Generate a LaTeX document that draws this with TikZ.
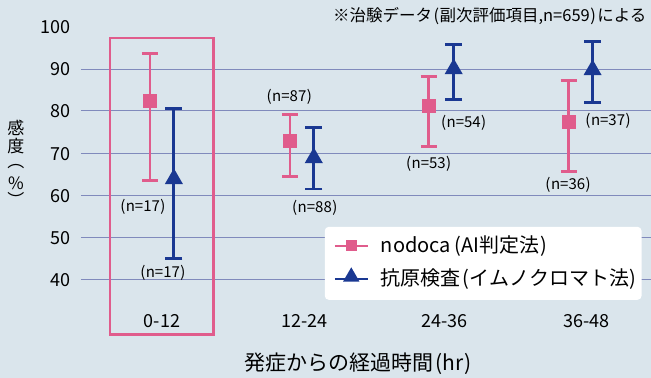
\documentclass[tikz,border=0pt]{standalone}
\usepackage{fontspec}
\setmainfont{Noto Sans CJK JP}
\usetikzlibrary{arrows.meta,shapes.geometric,positioning,calc}
\definecolor{bgblue}{RGB}{218,229,236}
\definecolor{nodopink}{RGB}{224,92,140}
\definecolor{kenblue}{RGB}{26,56,146}
\definecolor{gridblue}{RGB}{128,138,188}
\newcommand\lp{\kern1.5pt(\kern0.5pt}
\newcommand\rp{\kern0.5pt)\kern1.5pt}
\tikzset{
  gline/.style = {
    gridblue, line width=0.9pt
  },
  pinkbar/.style = {
    nodopink, line width=2.6pt,
    {Bar[width=16pt]}-{Bar[width=16pt]}
  },
  bluebar/.style = {
    kenblue, line width=2.8pt,
    {Bar[width=17pt]}-{Bar[width=17pt]}
  },
  sq/.style = {
    fill=nodopink, minimum size=14pt, inner sep=0pt
  },
  tri/.style = {
    regular polygon, regular polygon sides=3, fill=kenblue,
    minimum size=21pt, inner sep=0pt
  },
  nlab/.style = {
    font=\fontsize{15}{15}\selectfont, inner sep=0pt
  },
  tick/.style = {
    font=\fontsize{18}{18}\selectfont, inner sep=0pt
  },
  ychar/.style = {
    font=\fontsize{17}{17}\selectfont, inner sep=0pt
  }
}

\begin{document}
\begin{tikzpicture}[x=1pt,y=-1pt]
		\fill[bgblue] (0,0) rectangle (651,378);
		\node[anchor=east, font=\fontsize{16.5}{16}\selectfont, inner sep=0pt] (note) at (647,16) {※治験データ\lp 副次評価項目,n=659\rp による};
		
		% grid
		\coordinate (g90l) at (81,69);   \coordinate (g90r) at (651,69);
		\coordinate (g80l) at (81,111);  \coordinate (g80r) at (651,111);
		\coordinate (g70l) at (81,154);  \coordinate (g70r) at (651,154);
		\coordinate (g60l) at (81,196);  \coordinate (g60r) at (651,196);
		\coordinate (g50l) at (81,238);  \coordinate (g50r) at (651,238);
		\coordinate (g40l) at (81,280);  \coordinate (g40r) at (651,280);
		\draw[gline] (g90l) -- (g90r);
		\draw[gline] (g80l) -- (g80r);
		\draw[gline] (g70l) -- (g70r);
		\draw[gline] (g60l) -- (g60r);
		\draw[gline] (g50l) -- (g50r);
		\draw[gline] (g40l) -- (g40r);
		
		\node[tick, anchor=east] (y100) at (71,27) {100};
		\node[tick, anchor=east] (y90) at (71,69) {90};
		\node[tick, anchor=east] (y80) at (71,111) {80};
		\node[tick, anchor=east] (y70) at (71,154) {70};
		\node[tick, anchor=east] (y60) at (71,196) {60};
		\node[tick, anchor=east] (y50) at (71,238) {50};
		\node[tick, anchor=east] (y40) at (71,280) {40};
		\node[ychar] (ykan) at (16,128) {感};
		\node[ychar] (ydo) at (16,146) {度};
		\node[ychar] (ylp) at (16,167) {︵};
		\node[ychar] (ypct) at (16,183) {\%};
		\node[ychar] (yrp) at (16,200) {︶};
		
		% highlight 0-12
		\draw[nodopink, line width=2.8pt] (110,38) rectangle (214,335);
		
		% error bars
		\coordinate (pu1) at (150,52);  \coordinate (pl1) at (150,182);
		\coordinate (bu1) at (174,107); \coordinate (bl1) at (174,260);
		\coordinate (pu2) at (290,113); \coordinate (pl2) at (290,178);
		\coordinate (bu2) at (314,126); \coordinate (bl2) at (314,190.5);
		\coordinate (pu3) at (429,75);  \coordinate (pl3) at (429,148);
		\coordinate (bu3) at (454,43);  \coordinate (bl3) at (454,101);
		\coordinate (pu4) at (569,79);  \coordinate (pl4) at (569,173);
		\coordinate (bu4) at (593,40);  \coordinate (bl4) at (593,104);
		
		\path[pinkbar] (pu1) edge (pl1);
		\path[bluebar] (bu1) edge (bl1);
		\path[pinkbar] (pu2) edge (pl2);
		\path[bluebar] (bu2) edge (bl2);
		\path[pinkbar] (pu3) edge (pl3);
		\path[bluebar] (bu3) edge (bl3);
		\path[pinkbar] (pu4) edge (pl4);
		\path[bluebar] (bu4) edge (bl4);
		
		\node[sq] (p1) at (150,101) {};
		\node[tri] (b1) at (174,179) {};
		\node[sq] (p2) at (290,141.5) {};
		\node[tri] (b2) at (314,158) {};
		\node[sq] (p3) at (429,106) {};
		\node[tri] (b3) at (454,69) {};
		\node[sq] (p4) at (569,122.5) {};
		\node[tri] (b4) at (593,70) {};
		
		\node[nlab] (np1) at (143,207) {\lp n=17\rp};
		\node[nlab] (nb1) at (163,273) {\lp n=17\rp};
		\node[nlab] (np2) at (289.5,97) {\lp n=87\rp};
		\node[nlab] (nb2) at (315,208) {\lp n=88\rp};
		\node[nlab] (np3) at (429,164) {\lp n=53\rp};
		\node[nlab] (nb3) at (464,123) {\lp n=54\rp};
		\node[nlab] (np4) at (568.5,185) {\lp n=36\rp};
		\node[nlab] (nb4) at (608.5,121) {\lp n=37\rp};
		
		\node[tick] (x1) at (162,321) {0-12};
		\node[tick] (x2) at (305,321) {12-24};
		\node[tick] (x3) at (445,321) {24-36};
		\node[tick] (x4) at (587,321) {36-48};
		\node[font=\fontsize{21}{21}\selectfont, inner sep=0pt] (xtitle) at (359,364) {発症からの経過時間\lp hr\rp};
		
		% legend
		\node[fill=white, rounded corners=4pt, minimum width=317pt, minimum height=73pt, inner sep=0pt] (legend) at (483.5,263.5) {};
		\coordinate (lpa) at (335,246); \coordinate (lpb) at (368,246);
		\coordinate (lba) at (335,279); \coordinate (lbb) at (368,279);
		\draw[nodopink, line width=2.2pt] (lpa) -- (lpb);
		\draw[kenblue, line width=2.2pt] (lba) -- (lbb);
		\node[sq, minimum size=11pt] (lps) at ($(lpa)!0.5!(lpb)$) {};
		\node[tri, minimum size=19pt] (lbt) at ($(lba)!0.5!(lbb)+(0,-2)$) {};
		\node[anchor=west, font=\fontsize{20}{20}\selectfont, inner sep=0pt] (lpt) at (381,246) {nodoca\kern2pt\lp AI判定法\rp};
		\node[anchor=west, font=\fontsize{20}{20}\selectfont, inner sep=0pt] (lbx) at (381,279) {抗原検査\lp イムノクロマト法\rp};
	\end{tikzpicture}
\end{document}
